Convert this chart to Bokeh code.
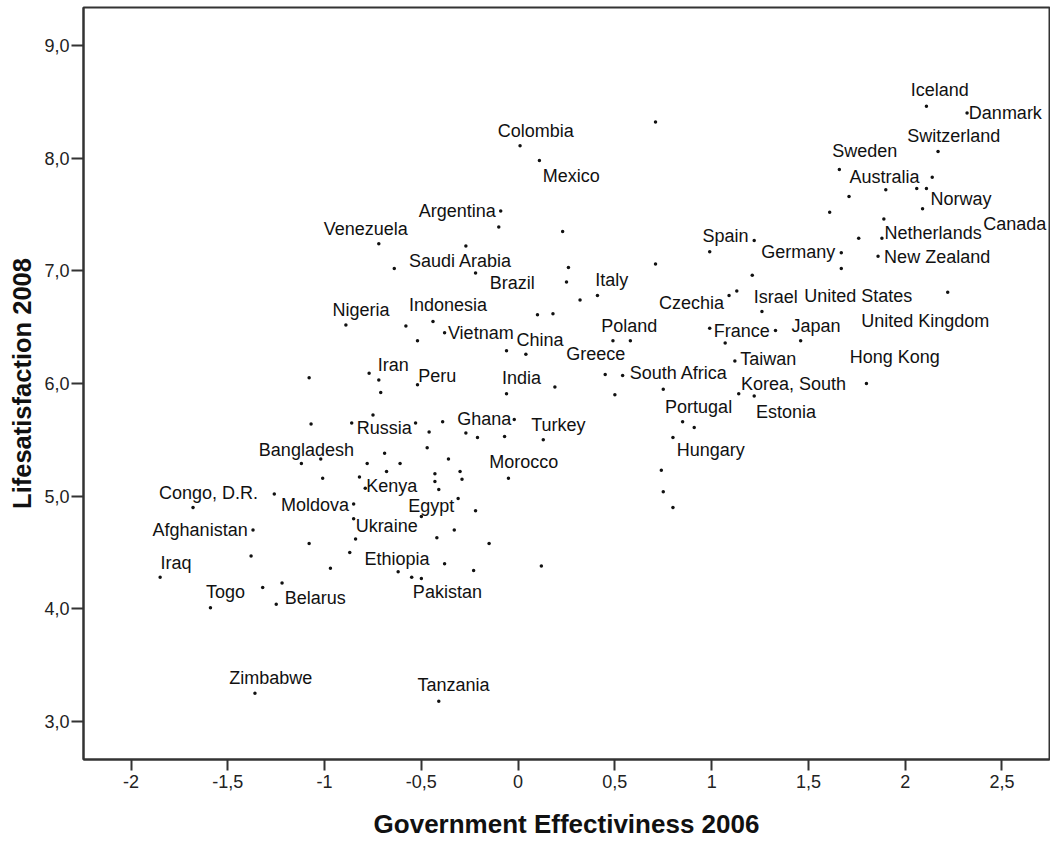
from bokeh.plotting import figure
from bokeh.models import Range1d, FixedTicker, ColumnDataSource
from bokeh.core.properties import value
from bokeh.embed import file_html
from bokeh.resources import INLINE

# ---------------- data ----------------
countries = [
    "Colombia", "Mexico", "Iceland", "Danmark", "Switzerland", "Sweden", "Australia",
    "Norway", "Canada", "Netherlands", "Germany", "New Zealand", "United States",
    "United Kingdom", "Hong Kong", "Spain", "Czechia", "Israel", "France", "Japan",
    "Taiwan", "Korea, South", "Estonia", "South Africa", "India", "China", "Poland",
    "Greece", "Italy", "Argentina", "Venezuela", "Saudi Arabia", "Brazil", "Nigeria",
    "Indonesia", "Vietnam", "Iran", "Peru", "Russia", "Ghana", "Turkey", "Portugal",
    "Hungary", "Bangladesh", "Morocco", "Kenya", "Congo, D.R.", "Moldova", "Egypt",
    "Ukraine", "Afghanistan", "Ethiopia", "Pakistan", "Iraq", "Togo", "Belarus",
    "Zimbabwe", "Tanzania",
] + [""] * 74

gov_effectiveness = [
    0.01, 0.11, 2.11, 2.32, 2.17, 1.66, 1.90,
    2.09, 1.89, 1.88, 1.67, 1.86, 1.67,
    2.22, 1.80, 1.22, 1.09, 1.26, 0.99, 1.46,
    1.12, 1.14, 1.22, 0.54, -0.06, 0.04, 0.58,
    0.49, 0.41, -0.09, -0.72, -0.64, -0.22, -0.89,
    -0.44, -0.38, -0.77, -0.52, -0.86, -0.02, 0.13, 0.85,
    0.80, -1.12, -0.05, -0.79, -1.68, -0.85, -0.31,
    -0.85, -1.37, -0.87, -0.55, -1.85, -1.59, -1.25,
    -1.36, -0.41,
    # unlabeled countries
    0.71, 2.14, 2.06, 2.11, 1.71, 1.61, 1.76, 0.99, 1.21, 1.13,
    1.33, 1.07, 0.45, 0.50, 0.75, 0.19, -0.06, 0.10, 0.18, 0.32,
    0.25, 0.26, 0.71, 0.23, -0.10, -0.27, -0.58, -0.52, -1.08, -0.72,
    -0.71, -1.07, -0.75, -0.53, -0.46, -0.39, -0.27, -0.21, -0.07, 0.91,
    -0.47, -0.69, -0.36, -1.02, -0.78, -0.61, -0.68, -0.43, -0.43, -0.41,
    -0.30, -0.29, -1.01, -0.82, -1.26, -0.50, -0.22, -0.33, -0.42, -0.84,
    -1.08, -0.15, -1.38, -0.38, -0.97, -0.62, -0.23, -0.50, -1.32, -1.22,
    0.12, 0.74, 0.75, 0.80,
]

life_satisfaction = [
    8.11, 7.98, 8.46, 8.40, 8.06, 7.90, 7.72,
    7.55, 7.46, 7.29, 7.16, 7.13, 7.02,
    6.81, 6.00, 7.27, 6.78, 6.64, 6.49, 6.38,
    6.20, 5.91, 5.89, 6.07, 5.91, 6.26, 6.38,
    6.38, 6.78, 7.53, 7.24, 7.02, 6.98, 6.52,
    6.55, 6.45, 6.09, 5.99, 5.65, 5.68, 5.50, 5.66,
    5.52, 5.29, 5.16, 5.07, 4.90, 4.93, 4.98,
    4.80, 4.70, 4.50, 4.28, 4.28, 4.01, 4.04,
    3.25, 3.18,
    # unlabeled countries
    8.32, 7.83, 7.73, 7.73, 7.66, 7.52, 7.29, 7.17, 6.96, 6.82,
    6.47, 6.36, 6.08, 5.90, 5.95, 5.97, 6.29, 6.61, 6.62, 6.74,
    6.90, 7.03, 7.06, 7.35, 7.39, 7.22, 6.51, 6.38, 6.05, 6.03,
    5.92, 5.64, 5.72, 5.65, 5.57, 5.66, 5.56, 5.52, 5.53, 5.61,
    5.43, 5.38, 5.33, 5.33, 5.29, 5.29, 5.22, 5.20, 5.13, 5.06,
    5.22, 5.15, 5.16, 5.17, 5.02, 4.82, 4.87, 4.70, 4.63, 4.62,
    4.58, 4.58, 4.47, 4.40, 4.36, 4.33, 4.34, 4.27, 4.19, 4.23,
    4.38, 5.23, 5.04, 4.90,
]

x_ticks = [-2.0, -1.5, -1.0, -0.5, 0.0, 0.5, 1.0, 1.5, 2.0, 2.5]
x_tick_labels = ["-2", "-1,5", "-1", "-0,5", "0", "0,5", "1", "1,5", "2", "2,5"]
y_ticks = [3.0, 4.0, 5.0, 6.0, 7.0, 8.0, 9.0]
y_tick_labels = ["3,0", "4,0", "5,0", "6,0", "7,0", "8,0", "9,0"]

x_title = "Government Effectiviness 2006"
y_title = "Lifesatisfaction 2008"

# ---------------- label placement (screen px, layout only) ----------------
label_offsets = {
    "Colombia": (15.7, -15), "Mexico": (31.9, 15.3), "Iceland": (13.3, -16.3),
    "Danmark": (38.3, 0.3), "Switzerland": (15.7, -15.3), "Sweden": (25.5, -18),
    "Australia": (-1.2, -13.1), "Norway": (38.5, -9.5), "Canada": (131.0, 4.8),
    "Netherlands": (51.2, -5.5), "Germany": (-43, -1), "New Zealand": (59.1, 1.2),
    "United States": (16.9, 27), "United Kingdom": (-22.5, 28.3), "Hong Kong": (28.4, -27),
    "Spain": (-28.8, -4.6), "Czechia": (-37.5, 7.7), "Israel": (13.9, -14.7),
    "France": (32.1, 2.7), "Japan": (15.4, -15), "Taiwan": (33.3, -1.5),
    "Korea, South": (54.8, -9.4), "Estonia": (31.7, 16.3), "South Africa": (56.2, -2.2),
    "India": (15.1, -16), "China": (14.1, -14.3), "Poland": (-1.1, -14.5),
    "Greece": (-17.2, 13), "Italy": (14.4, -15.5), "Argentina": (-43.4, -0.5),
    "Venezuela": (-13, -14.4), "Saudi Arabia": (66.2, -7.3), "Brazil": (36.8, 10.2),
    "Nigeria": (15, -15), "Indonesia": (15.1, -16.4), "Vietnam": (36.2, 0.3),
    "Iran": (24.2, -8), "Peru": (19.7, -8.5), "Russia": (32.5, 5.4),
    "Ghana": (-30.1, -0.6), "Turkey": (15.1, -15.3), "Portugal": (16, -15),
    "Hungary": (37.8, 12.3), "Bangladesh": (5, -13.7), "Morocco": (15.4, -16.3),
    "Kenya": (26.6, -2.3), "Congo, D.R.": (15.5, -14.6), "Moldova": (-38.7, 0.7),
    "Egypt": (-26.9, 7.4), "Ukraine": (33, 7.4), "Afghanistan": (-52.9, 0),
    "Ethiopia": (47.2, 6), "Pakistan": (35.7, 15), "Iraq": (15.8, -14.6),
    "Togo": (15.1, -15.7), "Belarus": (39.1, -6), "Zimbabwe": (15.8, -15.6),
    "Tanzania": (14.7, -16.3),
}

pts = ColumnDataSource(dict(x=gov_effectiveness, y=life_satisfaction, name=countries))

lx, ly, lt, ldx, ldy = [], [], [], [], []
for n, gx, gy in zip(countries, gov_effectiveness, life_satisfaction):
    if n:
        dx, dy = label_offsets[n]
        lx.append(gx); ly.append(gy); lt.append(n); ldx.append(dx); ldy.append(dy)
labels = ColumnDataSource(dict(x=lx, y=ly, text=lt, dx=ldx, dy=ldy))

# ---------------- figure ----------------
p = figure(width=1050, height=843, output_backend="svg", toolbar_location=None,
           x_range=Range1d(-2.246, 2.746), y_range=Range1d(2.663, 9.337),
           min_border_left=83, min_border_right=1, min_border_top=7,
           min_border_bottom=84, background_fill_color="white",
           border_fill_color="white")

p.grid.visible = False
p.outline_line_color = "#333333"
p.outline_line_width = 2

FONT = "Liberation Sans"
for ax in (p.xaxis[0], p.yaxis[0]):
    ax.axis_line_color = "#333333"
    ax.axis_line_width = 2
    ax.major_tick_in = 0
    ax.major_tick_line_width = 2
    ax.major_tick_line_color = "#333333"
    ax.minor_tick_line_color = None
    ax.major_label_text_font = FONT
    ax.major_label_text_font_size = "18px"
    ax.major_label_text_color = "#222222"
    ax.axis_label_text_font = FONT
    ax.axis_label_text_font_style = "bold"
    ax.axis_label_text_color = "#111111"

p.xaxis.ticker = FixedTicker(ticks=x_ticks)
p.xaxis.major_label_overrides = dict(zip(x_ticks, x_tick_labels))
p.xaxis.major_tick_out = 11
p.xaxis.major_label_standoff = 4
p.xaxis.axis_label = x_title
p.xaxis.axis_label_text_font_size = "26px"
p.xaxis.axis_label_standoff = 18

p.yaxis.ticker = FixedTicker(ticks=y_ticks)
p.yaxis.major_label_overrides = dict(zip(y_ticks, y_tick_labels))
p.yaxis.major_tick_out = 12
p.yaxis.major_label_standoff = 2
p.yaxis.axis_label = y_title
p.yaxis.axis_label_text_font_size = "25.5px"
p.yaxis.axis_label_standoff = 5

p.scatter(x="x", y="y", source=pts, size=3.5, marker="circle",
          fill_color="#111111", line_color=None)

p.text(x="x", y="y", text="text", source=labels, x_offset="dx", y_offset="dy",
       text_align="center", text_baseline="middle",
       text_font=value(FONT), text_font_size="18px", text_color="#111111")

open("out.html", "w").write(file_html(p, INLINE))
